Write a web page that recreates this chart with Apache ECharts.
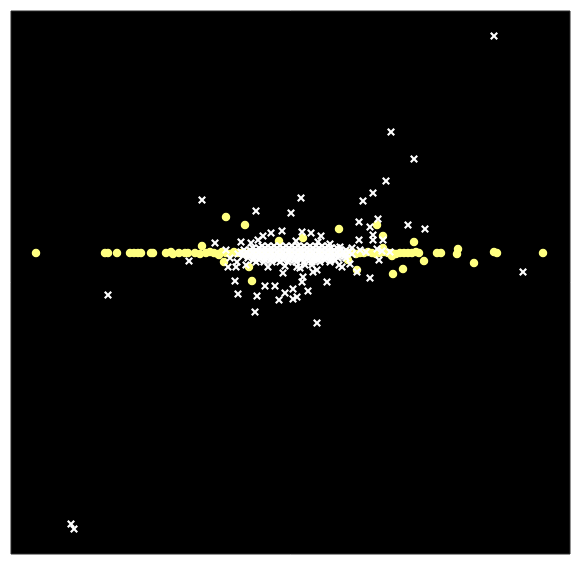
<!DOCTYPE html>
<html>
<head>
<meta charset="utf-8">
<script src="https://cdn.jsdelivr.net/npm/echarts@6/dist/echarts.min.js"></script>
<style>html,body{margin:0;padding:0;background:#fff;}#c{width:579px;height:565px;}</style>
</head>
<body>
<div id="c"></div>
<script>
// Axis extents (arbitrary data units)
const xRange = [-279, 280];
const yRange = [-301, 242];

// Yellow circles [x, y]
const yellowPoints = [
  [-254,0],[-185,0],[-182,0],[-173,0],[-160,0],[-156,0],[-152,0],[-149,0],[-139,0],[-137,0],
  [-124,0],[-119,1],[-117,-1],[-111,0],[-105,0],[-102,0],[-95,0],[-90,-1],[-84,0],[-80,1],
  [-76,0],[-72,-1],[-68,1],[-64,0],[-60,-1],[-56,1],[-52,0],[-48,0],[-44,-1],[-40,1],
  [-36,0],[-32,0],[-28,-1],[-24,1],[-20,0],[-10,0],[0,0],[10,0],[20,0],[30,0],[40,0],[50,0],
  [58,0],[62,1],[66,-1],[70,0],[74,0],[78,1],[82,0],[86,-1],[90,0],[94,1],[98,0],[102,0],
  [106,-1],[110,0],[114,0],[118,0],[122,0],[126,1],[129,0],[147,0],[151,0],[167,-1],[168,4],
  [204,1],[207,0],[253,0],
  [-64,36],[-45,28],[-88,7],[-11,12],[13,15],[-41,-14],[-38,-28],[-66,-9],[-71,-2],
  [49,24],[87,28],[93,17],[124,11],[134,-8],[67,-17],[103,-21],[113,-16],[184,-10],
  [58,-7],[93,5],[102,-3]
];

// White crosses [x, y]
const whitePoints = [
  [204,217],[101,121],[124,94],[96,72],[83,60],[73,52],[11,55],[-88,53],[-34,42],[1,40],
  [69,31],[88,34],[80,26],[118,28],[135,24],[-27,17],[-19,20],[-8,22],[12,21],[21,20],
  [31,17],[83,18],[83,13],[69,13],[93,13],[-75,10],[-39,10],[70,3],[87,4],[76,1],[92,2],
  [100,1],[-101,-8],[-62,-14],[-54,-14],[-44,-12],[89,-7],[49,-12],[52,-14],[67,-19],
  [80,-25],[233,-19],[-182,-42],[-55,-28],[-52,-41],[-33,-43],[-25,-33],[-15,-33],[-11,-47],
  [-5,-40],[3,-36],[7,-44],[3,-46],[13,-24],[12,-29],[18,-38],[23,-19],[27,-17],[-7,-20],
  [7,-14],[15,-12],[27,-6],[37,-29],[-35,-59],[27,-70],[-219,-271],[-216,-276],
  // dense core
  [-28,7],[-22,7],[-16,7],[-10,7],[-4,7],[2,7],[8,7],[14,7],[20,7],[26,7],[32,7],[38,7],
  [-37,5],[-31,5],[-25,5],[-19,5],[-13,5],[-7,5],[-1,5],[5,5],[11,5],[17,5],[23,5],[29,5],
  [35,5],[41,5],[47,5],
  [-46,3],[-40,3],[-34,3],[-28,3],[-22,3],[-16,3],[-10,3],[-4,3],[2,3],[8,3],[14,3],[20,3],
  [26,3],[32,3],[38,3],[44,3],[50,3],[56,3],
  [-49,1],[-43,1],[-37,1],[-31,1],[-25,1],[-19,1],[-13,1],[-7,1],[-1,1],[5,1],[11,1],
  [17,1],[23,1],[29,1],[35,1],[41,1],[47,1],[53,1],[59,1],
  [-52,-1],[-46,-1],[-40,-1],[-34,-1],[-28,-1],[-22,-1],[-16,-1],[-10,-1],[-4,-1],[2,-1],
  [8,-1],[14,-1],[20,-1],[26,-1],[32,-1],[38,-1],[44,-1],[50,-1],[56,-1],[62,-1],
  [-47,-3],[-41,-3],[-35,-3],[-29,-3],[-23,-3],[-17,-3],[-11,-3],[-5,-3],[1,-3],[7,-3],
  [13,-3],[19,-3],[25,-3],[31,-3],[37,-3],[43,-3],[49,-3],[55,-3],
  [-42,-5],[-36,-5],[-30,-5],[-24,-5],[-18,-5],[-12,-5],[-6,-5],[0,-5],[6,-5],[12,-5],
  [18,-5],[24,-5],[30,-5],[36,-5],[42,-5],[48,-5],
  [-37,-7],[-31,-7],[-25,-7],[-19,-7],[-13,-7],[-7,-7],[-1,-7],[5,-7],[11,-7],[17,-7],
  [23,-7],[29,-7],[35,-7],[41,-7],[45,-7],
  [-34,-9],[-26,-9],[-18,-9],[-10,-9],[-2,-9],[6,-9],[14,-9],[22,-9],[30,-9],[40,-9],
  [-49,11],[-53,-9],[-60,-5],[-64,3],[62,5],[56,-5],[60,-11],[-32,13],[6,12],[28,11],
  [40,9],[50,6],[-5,-13],[-22,-14],[10,-15],[22,-12]
];

const chart = echarts.init(document.getElementById('c'));
const hidden = {show:false};
chart.setOption({
  animation: false,
  backgroundColor: '#ffffff',
  grid: {left:11, top:11, right:9, bottom:11, show:true, backgroundColor:'#000000', borderColor:'#2a2a2a', borderWidth:1},
  xAxis: {type:'value', min:xRange[0], max:xRange[1], axisLine:hidden, axisTick:hidden, axisLabel:hidden, splitLine:hidden},
  yAxis: {type:'value', min:yRange[0], max:yRange[1], axisLine:hidden, axisTick:hidden, axisLabel:hidden, splitLine:hidden},
  series: [
    {type:'scatter', data:yellowPoints, symbol:'circle', symbolSize:8.5, z:2,
     itemStyle:{color:'#ffff80', opacity:1}},
    {type:'scatter', data:whitePoints, symbolSize:8, z:3,
     symbol:'path://M0,1.9L1.9,0L5,3.1L8.1,0L10,1.9L6.9,5L10,8.1L8.1,10L5,6.9L1.9,10L0,8.1L3.1,5Z',
     itemStyle:{color:'#ffffff', opacity:1}}
  ]
});
</script>
</body>
</html>
